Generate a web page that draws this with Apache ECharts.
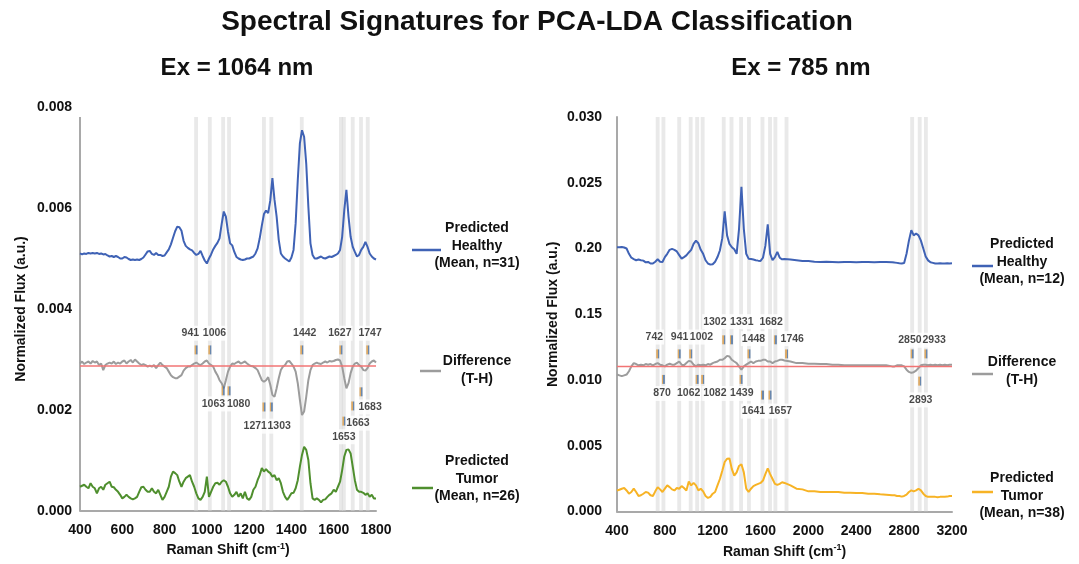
<!DOCTYPE html>
<html>
<head>
<meta charset="utf-8">
<title>Spectral Signatures for PCA-LDA Classification</title>
<script src="https://cdn.jsdelivr.net/npm/echarts@6/dist/echarts.min.js"></script>
<style>
  html, body { margin: 0; padding: 0; background: #fff; }
  #chart { width: 1079px; height: 564px; }
</style>
</head>
<body>
<div id="chart"></div>
<script>
  // ---- Ex = 1064 nm (left panel), Raman shift sampled every 10 cm-1 ----
  const leftShift = [
    400, 410, 420, 430, 440, 450, 460, 470, 480, 490, 500, 510, 520, 530, 540, 550, 560, 570, 580, 590,
    600, 610, 620, 630, 640, 650, 660, 670, 680, 690, 700, 710, 720, 730, 740, 750, 760, 770, 780, 790,
    800, 810, 820, 830, 840, 850, 860, 870, 880, 890, 900, 910, 920, 930, 940, 950, 960, 970, 980, 990,
    1000, 1010, 1020, 1030, 1040, 1050, 1060, 1070, 1080, 1090, 1100, 1110, 1120, 1130, 1140, 1150, 1160, 1170, 1180, 1190,
    1200, 1210, 1220, 1230, 1240, 1250, 1260, 1270, 1280, 1290, 1300, 1310, 1320, 1330, 1340, 1350, 1360, 1370, 1380, 1390,
    1400, 1410, 1420, 1430, 1440, 1450, 1460, 1470, 1480, 1490, 1500, 1510, 1520, 1530, 1540, 1550, 1560, 1570, 1580, 1590,
    1600, 1610, 1620, 1630, 1640, 1650, 1660, 1670, 1680, 1690, 1700, 1710, 1720, 1730, 1740, 1750, 1760, 1770, 1780, 1790,
    1800
  ];
  const leftHealthy = [
    0.00510, 0.00508, 0.00510, 0.00509, 0.00511, 0.00510, 0.00511, 0.00510, 0.00511, 0.00509,
    0.00510, 0.00508, 0.00509, 0.00506, 0.00504, 0.00505, 0.00503, 0.00505, 0.00503, 0.00500,
    0.00500, 0.00503, 0.00502, 0.00499, 0.00497, 0.00498, 0.00497, 0.00498, 0.00497, 0.00499,
    0.00502, 0.00508, 0.00514, 0.00515, 0.00509, 0.00507, 0.00511, 0.00507, 0.00507, 0.00505,
    0.00506, 0.00512, 0.00518, 0.00528, 0.00541, 0.00554, 0.00563, 0.00562, 0.00555, 0.00535,
    0.00525, 0.00521, 0.00518, 0.00516, 0.00511, 0.00507, 0.00509, 0.00515, 0.00505, 0.00496,
    0.00490, 0.00500, 0.00508, 0.00518, 0.00525, 0.00531, 0.00540, 0.00568, 0.00593, 0.00583,
    0.00553, 0.00530, 0.00526, 0.00513, 0.00503, 0.00500, 0.00498, 0.00497, 0.00498, 0.00500,
    0.00500, 0.00502, 0.00504, 0.00510, 0.00520, 0.00540, 0.00565, 0.00588, 0.00595, 0.00590,
    0.00615, 0.00659, 0.00616, 0.00583, 0.00537, 0.00510, 0.00504, 0.00500, 0.00497, 0.00494,
    0.00502, 0.00517, 0.00570, 0.00655, 0.00728, 0.00754, 0.00741, 0.00688, 0.00603, 0.00530,
    0.00507, 0.00500, 0.00500, 0.00502, 0.00504, 0.00501, 0.00500, 0.00502, 0.00504, 0.00503,
    0.00505, 0.00507, 0.00510, 0.00517, 0.00543, 0.00596, 0.00636, 0.00583, 0.00543, 0.00523,
    0.00513, 0.00504, 0.00507, 0.00517, 0.00523, 0.00533, 0.00523, 0.00510, 0.00504, 0.00500,
    0.00498
  ];
  const leftDifference = [
    0.00292, 0.00296, 0.00291, 0.00294, 0.00296, 0.00292, 0.00297, 0.00294, 0.00296, 0.00289,
    0.00292, 0.00279, 0.00289, 0.00292, 0.00294, 0.00292, 0.00296, 0.00291, 0.00294, 0.00292,
    0.00296, 0.00298, 0.00292, 0.00296, 0.00299, 0.00294, 0.00300, 0.00296, 0.00292, 0.00289,
    0.00291, 0.00289, 0.00286, 0.00288, 0.00286, 0.00289, 0.00283, 0.00289, 0.00294, 0.00289,
    0.00286, 0.00283, 0.00276, 0.00269, 0.00265, 0.00263, 0.00263, 0.00266, 0.00269, 0.00278,
    0.00283, 0.00286, 0.00286, 0.00289, 0.00292, 0.00294, 0.00291, 0.00289, 0.00292, 0.00296,
    0.00298, 0.00292, 0.00289, 0.00286, 0.00276, 0.00269, 0.00259, 0.00253, 0.00243, 0.00259,
    0.00276, 0.00286, 0.00292, 0.00291, 0.00294, 0.00296, 0.00292, 0.00294, 0.00296, 0.00292,
    0.00289, 0.00287, 0.00286, 0.00283, 0.00279, 0.00269, 0.00259, 0.00256, 0.00259, 0.00265,
    0.00250, 0.00230, 0.00226, 0.00243, 0.00263, 0.00279, 0.00286, 0.00289, 0.00296, 0.00297,
    0.00292, 0.00286, 0.00276, 0.00253, 0.00220, 0.00190, 0.00197, 0.00226, 0.00259, 0.00279,
    0.00289, 0.00292, 0.00294, 0.00292, 0.00291, 0.00294, 0.00296, 0.00294, 0.00297, 0.00296,
    0.00297, 0.00299, 0.00300, 0.00298, 0.00286, 0.00263, 0.00243, 0.00253, 0.00273, 0.00286,
    0.00292, 0.00294, 0.00289, 0.00286, 0.00279, 0.00278, 0.00283, 0.00292, 0.00296, 0.00298,
    0.00294
  ];
  const leftTumor = [
    0.00048, 0.00050, 0.00052, 0.00048, 0.00045, 0.00055, 0.00048, 0.00045, 0.00035, 0.00045,
    0.00048, 0.00042, 0.00052, 0.00055, 0.00058, 0.00048, 0.00047, 0.00042, 0.00038, 0.00032,
    0.00025, 0.00028, 0.00032, 0.00028, 0.00025, 0.00023, 0.00025, 0.00028, 0.00038, 0.00047,
    0.00048, 0.00042, 0.00038, 0.00038, 0.00045, 0.00038, 0.00035, 0.00042, 0.00032, 0.00022,
    0.00028, 0.00038, 0.00048, 0.00068, 0.00078, 0.00075, 0.00071, 0.00058, 0.00048, 0.00058,
    0.00065, 0.00068, 0.00071, 0.00058, 0.00048, 0.00035, 0.00025, 0.00022, 0.00028, 0.00038,
    0.00068, 0.00028, 0.00038, 0.00048, 0.00055, 0.00056, 0.00052, 0.00058, 0.00061, 0.00058,
    0.00048, 0.00035, 0.00028, 0.00032, 0.00038, 0.00028, 0.00035, 0.00025, 0.00038, 0.00025,
    0.00022, 0.00028, 0.00042, 0.00048, 0.00061, 0.00071, 0.00085, 0.00078, 0.00083, 0.00078,
    0.00075, 0.00068, 0.00071, 0.00061, 0.00065, 0.00055, 0.00038, 0.00028, 0.00022, 0.00028,
    0.00035, 0.00036, 0.00045, 0.00061, 0.00088, 0.00111, 0.00127, 0.00121, 0.00101, 0.00055,
    0.00025, 0.00022, 0.00025, 0.00022, 0.00017, 0.00022, 0.00023, 0.00028, 0.00032, 0.00035,
    0.00042, 0.00038, 0.00048, 0.00058, 0.00081, 0.00108, 0.00121, 0.00122, 0.00114, 0.00088,
    0.00061, 0.00042, 0.00038, 0.00038, 0.00036, 0.00032, 0.00035, 0.00028, 0.00032, 0.00025,
    0.00025
  ];
  const leftZeroLine = 0.00287;
  const leftYTicks = ['0.000', '0.002', '0.004', '0.006', '0.008'];
  const leftPeaks = [941, 1006, 1063, 1080, 1271, 1303, 1442, 1627, 1653, 1663, 1683, 1747];

  // ---- Ex = 785 nm (right panel) ----
  const rightShift = [
    400, 420, 440, 460, 480, 500, 520, 540, 560, 580, 600, 620, 640, 660, 680, 700, 720, 740, 760, 780,
    800, 820, 840, 860, 880, 900, 920, 940, 960, 980, 1000, 1020, 1040, 1060, 1080, 1100, 1120, 1140, 1160, 1180,
    1200, 1220, 1240, 1260, 1280, 1300, 1320, 1340, 1360, 1380, 1400, 1420, 1440, 1460, 1480, 1500, 1520, 1540, 1560, 1580,
    1600, 1620, 1640, 1660, 1680, 1700, 1720, 1740, 1760, 1780, 1800,
    1850, 1900, 1950, 2000, 2050, 2100, 2150, 2200, 2250, 2300, 2350, 2400, 2450, 2500, 2550, 2600, 2650,
    2700, 2720, 2740, 2760, 2780, 2800, 2820, 2840, 2860, 2880, 2900, 2920, 2940, 2960, 2980, 3000,
    3020, 3040, 3060, 3080, 3100, 3120, 3140, 3160, 3180, 3200
  ];
  const rightHealthy = [
    0.02010, 0.02010, 0.02012, 0.02008, 0.02000, 0.01960, 0.01930, 0.01920, 0.01911, 0.01916,
    0.01911, 0.01908, 0.01895, 0.01898, 0.01886, 0.01886, 0.01900, 0.01918, 0.01900, 0.01898,
    0.01935, 0.01960, 0.01990, 0.01997, 0.01990, 0.01978, 0.01950, 0.01923, 0.01935, 0.01948,
    0.01970, 0.01990, 0.02035, 0.02060, 0.02040, 0.01990, 0.01960, 0.01911, 0.01886, 0.01878,
    0.01881, 0.01900, 0.01935, 0.01985, 0.02079, 0.02283, 0.02100, 0.02035, 0.02010, 0.01995,
    0.01960, 0.02150, 0.02469, 0.02150, 0.01960, 0.01923, 0.01920, 0.01916, 0.01911, 0.01908,
    0.01906, 0.01930, 0.02020, 0.02184, 0.01960, 0.01911, 0.01935, 0.01975, 0.01930, 0.01918,
    0.01920,
    0.01916, 0.01911, 0.01906, 0.01906, 0.01900, 0.01898, 0.01900, 0.01898, 0.01896, 0.01898,
    0.01898, 0.01896, 0.01898, 0.01898, 0.01896, 0.01898, 0.01898,
    0.01896, 0.01893, 0.01891, 0.01888, 0.01886, 0.01890, 0.01960, 0.02060, 0.02140, 0.02100,
    0.02114, 0.02100, 0.02060, 0.02000, 0.01940, 0.01910, 0.01895, 0.01891, 0.01886, 0.01886,
    0.01888, 0.01886, 0.01886, 0.01888, 0.01886, 0.01888
  ];
  const rightDifference = [
    0.01042, 0.01036, 0.01030, 0.01036, 0.01042, 0.01067, 0.01104, 0.01129, 0.01122, 0.01112,
    0.01117, 0.01112, 0.01122, 0.01117, 0.01122, 0.01112, 0.01122, 0.01129, 0.01117, 0.01112,
    0.01104, 0.01117, 0.01124, 0.01117, 0.01117, 0.01129, 0.01141, 0.01117, 0.01112, 0.01129,
    0.01146, 0.01141, 0.01117, 0.01104, 0.01117, 0.01112, 0.01117, 0.01112, 0.01122, 0.01117,
    0.01129, 0.01136, 0.01141, 0.01154, 0.01154, 0.01166, 0.01184, 0.01179, 0.01154, 0.01141,
    0.01129, 0.01104, 0.01079, 0.01104, 0.01117, 0.01129, 0.01141, 0.01129, 0.01141, 0.01146,
    0.01146, 0.01154, 0.01154, 0.01141, 0.01141, 0.01129, 0.01141, 0.01146, 0.01154, 0.01154,
    0.01149,
    0.01141, 0.01129, 0.01129, 0.01124, 0.01124, 0.01122, 0.01122, 0.01117, 0.01117, 0.01112,
    0.01112, 0.01112, 0.01112, 0.01112, 0.01112, 0.01112, 0.01112,
    0.01104, 0.01104, 0.01112, 0.01112, 0.01112, 0.01104, 0.01079, 0.01062, 0.01055, 0.01060,
    0.01072, 0.01092, 0.01112, 0.01117, 0.01117, 0.01112, 0.01117, 0.01112, 0.01117, 0.01112,
    0.01117, 0.01112, 0.01117, 0.01112, 0.01117, 0.01117
  ];
  const rightTumor = [
    0.00161, 0.00166, 0.00174, 0.00179, 0.00161, 0.00136, 0.00149, 0.00174, 0.00149, 0.00119,
    0.00124, 0.00136, 0.00149, 0.00144, 0.00124, 0.00119, 0.00154, 0.00186, 0.00169, 0.00149,
    0.00174, 0.00199, 0.00186, 0.00169, 0.00161, 0.00179, 0.00174, 0.00194, 0.00179, 0.00161,
    0.00228, 0.00199, 0.00218, 0.00199, 0.00161, 0.00174, 0.00154, 0.00119, 0.00104, 0.00112,
    0.00136, 0.00149, 0.00199, 0.00248, 0.00310, 0.00377, 0.00402, 0.00404, 0.00323, 0.00273,
    0.00298, 0.00347, 0.00360, 0.00298, 0.00174, 0.00149, 0.00174, 0.00194, 0.00203, 0.00211,
    0.00218, 0.00236, 0.00285, 0.00328, 0.00285, 0.00248, 0.00211, 0.00203, 0.00211, 0.00223,
    0.00218,
    0.00199, 0.00174, 0.00169, 0.00154, 0.00154, 0.00149, 0.00149, 0.00149, 0.00149, 0.00144,
    0.00144, 0.00141, 0.00141, 0.00136, 0.00136, 0.00132, 0.00129,
    0.00124, 0.00124, 0.00119, 0.00119, 0.00114, 0.00119, 0.00129, 0.00149, 0.00161, 0.00154,
    0.00161, 0.00174, 0.00161, 0.00136, 0.00119, 0.00112, 0.00112, 0.00112, 0.00112, 0.00109,
    0.00112, 0.00112, 0.00112, 0.00114, 0.00119, 0.00119
  ];
  const rightZeroLine = 0.01104;
  const rightYTicks = ['0.000', '0.005', '0.010', '0.15', '0.20', '0.025', '0.030'];
  const rightPeaks = [742, 870, 941, 1002, 1062, 1082, 1302, 1331, 1439, 1448, 1641, 1657, 1682, 1746, 2850, 2893, 2933];

  // where each peak is drawn: [band/tick x, tick y, label x, label y] in axis units
  const leftPeakLayout = [
    [949, 0.00319, 922, 0.00352], [1014, 0.00319, 1036, 0.00352],
    [1077, 0.00238, 1031, 0.00212], [1105, 0.00238, 1150, 0.00212],
    [1270, 0.00206, 1229, 0.00168], [1305, 0.00206, 1342, 0.00168],
    [1449, 0.00319, 1463, 0.00352], [1634, 0.00319, 1629, 0.00352],
    [1648, 0.00178, 1648, 0.00147], [1690, 0.00208, 1715, 0.00174],
    [1729, 0.00236, 1772, 0.00206], [1761, 0.00319, 1772, 0.00352]
  ];
  const rightPeakLayout = [
    [740, 0.01199, 712, 0.01327], [788, 0.01005, 777, 0.00898],
    [920, 0.01199, 923, 0.01327], [1016, 0.01199, 1106, 0.01327],
    [1070, 0.01005, 999, 0.00898], [1116, 0.01005, 1218, 0.00898],
    [1292, 0.01306, 1218, 0.01444], [1357, 0.01306, 1443, 0.01444],
    [1437, 0.01005, 1443, 0.00898], [1503, 0.01199, 1541, 0.01315],
    [1616, 0.00886, 1541, 0.00764], [1679, 0.00886, 1766, 0.00764],
    [1724, 0.01306, 1688, 0.01444], [1817, 0.01199, 1865, 0.01315],
    [2867, 0.01199, 2848, 0.01303], [2930, 0.00992, 2939, 0.00849],
    [2982, 0.01199, 3051, 0.01303]
  ];

  const FONT = 'Liberation Sans, Arial, sans-serif';
  const AXIS_GREY = '#a9a9a9';
  const BLUE = '#3f62b5';
  const GREY = '#9c9c9c';
  const GREEN = '#4f8f2e';
  const ORANGE = '#f7b325';
  const RED = '#f27474';

  const chart = echarts.init(document.getElementById('chart'));

  function pairs(xs, ys) {
    return xs.map((x, i) => [x, ys[i]]);
  }

  function spectrum(axis, xs, ys, color) {
    return {
      type: 'line',
      xAxisIndex: axis,
      yAxisIndex: axis,
      data: pairs(xs, ys),
      symbol: 'none',
      silent: true,
      z: 2,
      lineStyle: {color: color, width: 2},
    };
  }

  function bands(axis, layout, halfWidth, top) {
    return {
      type: 'line',
      xAxisIndex: axis,
      yAxisIndex: axis,
      data: [],
      silent: true,
      z: 3,
      markArea: {
        silent: true,
        itemStyle: {color: 'rgba(212,212,212,0.5)'},
        data: layout.map(p => [{coord: [p[0] - halfWidth, 0]}, {coord: [p[0] + halfWidth, top]}]),
      },
    };
  }

  // straight segment in axis units (red zero line, shortened y axis line)
  function segment(axis, from, to, color, width, z) {
    return {
      type: 'line',
      xAxisIndex: axis,
      yAxisIndex: axis,
      data: [from, to],
      symbol: 'none',
      silent: true,
      z: z,
      lineStyle: {color: color, width: width},
    };
  }

  // little two-tone tick marks under/over the difference trace
  function peakTicks(axis, layout) {
    return {
      type: 'scatter',
      xAxisIndex: axis,
      yAxisIndex: axis,
      silent: true,
      z: 6,
      symbol: 'rect',
      symbolSize: [3, 9],
      itemStyle: {
        color: new echarts.graphic.LinearGradient(0, 0, 1, 0, [
          {offset: 0, color: '#d99a45'}, {offset: 0.5, color: '#d99a45'},
          {offset: 0.5, color: '#4a6f9e'}, {offset: 1, color: '#4a6f9e'},
        ]),
      },
      data: layout.map(p => [p[0], p[1]]),
    };
  }

  function peakLabels(axis, peaks, layout) {
    return {
      type: 'scatter',
      xAxisIndex: axis,
      yAxisIndex: axis,
      silent: true,
      z: 5,
      symbolSize: 2,
      itemStyle: {color: 'rgba(0,0,0,0)'},
      label: {
        show: true,
        position: 'inside',
        formatter: '{b}',
        fontFamily: FONT,
        fontSize: 10.5,
        fontWeight: 'bold',
        color: '#1a1a1a',
        backgroundColor: '#fff',
        padding: [2, 1],
      },
      data: peaks.map((p, i) => ({name: String(p), value: [layout[i][2], layout[i][3]]})),
    };
  }

  const axisText = {fontFamily: FONT, fontSize: 14, fontWeight: 'bold', color: '#111'};
  const xName = 'Raman Shift (cm{sup|-1})';
  const xNameStyle = {
    fontFamily: FONT, fontSize: 14, fontWeight: 'bold', color: '#111',
    rich: {sup: {fontFamily: FONT, fontSize: 9, fontWeight: 'bold', color: '#111', padding: [0, 0, 8, 0]}},
  };

  function legendBlock(x, y, text, lineX1, lineX2, lineY, color) {
    return [
      {type: 'line', shape: {x1: lineX1, y1: lineY, x2: lineX2, y2: lineY}, style: {stroke: color, lineWidth: 2.5}},
      {
        type: 'text', x: x, y: y,
        style: {
          text: text, fill: '#111', font: 'bold 14px ' + FONT,
          textAlign: 'center', textVerticalAlign: 'middle', lineHeight: 17.5,
        },
      },
    ];
  }

  chart.setOption({
    animation: false,
    backgroundColor: '#fff',
    grid: [
      {left: 80, top: 107, width: 296, height: 404},
      {left: 617, top: 117, width: 335, height: 403},
    ],
    xAxis: [
      {
        gridIndex: 0, type: 'value', min: 400, max: 1800, interval: 200,
        axisLine: {lineStyle: {color: AXIS_GREY, width: 2}},
        axisTick: {show: false}, splitLine: {show: false},
        axisLabel: Object.assign({margin: 12, formatter: v => String(v)}, axisText),
        name: xName, nameLocation: 'middle', nameGap: 30, nameTextStyle: xNameStyle,
      },
      {
        gridIndex: 1, type: 'value', min: 400, max: 3200, interval: 400,
        axisLine: {lineStyle: {color: AXIS_GREY, width: 2}},
        axisTick: {show: false}, splitLine: {show: false},
        axisLabel: Object.assign({margin: 13, formatter: v => String(v)}, axisText),
        name: xName, nameLocation: 'middle', nameGap: 30, nameTextStyle: xNameStyle,
      },
    ],
    yAxis: [
      {
        gridIndex: 0, type: 'value', min: 0, max: 0.008, interval: 0.002,
        axisLine: {show: false},
        axisTick: {show: false}, splitLine: {show: false},
        axisLabel: Object.assign({margin: 8, formatter: v => leftYTicks[Math.round(v / 0.002)]}, axisText),
        name: 'Normalized Flux (a.u.)', nameLocation: 'middle', nameGap: 52,
        nameTextStyle: {fontFamily: FONT, fontSize: 14, fontWeight: 'bold', color: '#111'},
      },
      {
        gridIndex: 1, type: 'value', min: 0, max: 0.030, interval: 0.005,
        axisLine: {show: true, lineStyle: {color: AXIS_GREY, width: 2}},
        axisTick: {show: false}, splitLine: {show: false},
        axisLabel: Object.assign({margin: 15, formatter: v => rightYTicks[Math.round(v / 0.005)]}, axisText),
        name: 'Normalized Flux (a.u.)', nameLocation: 'middle', nameGap: 57,
        nameTextStyle: {fontFamily: FONT, fontSize: 14, fontWeight: 'bold', color: '#111'},
      },
    ],
    graphic: [
      {
        type: 'text', x: 537, y: 22,
        style: {
          text: 'Spectral Signatures for PCA-LDA Classification', fill: '#111',
          font: 'bold 28px ' + FONT, textAlign: 'center', textVerticalAlign: 'middle',
        },
      },
      {
        type: 'text', x: 237, y: 68,
        style: {text: 'Ex = 1064 nm', fill: '#111', font: 'bold 24px ' + FONT, textAlign: 'center', textVerticalAlign: 'middle'},
      },
      {
        type: 'text', x: 801, y: 68,
        style: {text: 'Ex = 785 nm', fill: '#111', font: 'bold 24px ' + FONT, textAlign: 'center', textVerticalAlign: 'middle'},
      },
      ...legendBlock(477, 246, 'Predicted\nHealthy\n(Mean, n=31)', 412, 441, 250, BLUE),
      ...legendBlock(477, 370, 'Difference\n(T-H)', 420, 441, 371, GREY),
      ...legendBlock(477, 479, 'Predicted\nTumor\n(Mean, n=26)', 412, 433, 488, GREEN),
      ...legendBlock(1022, 262, 'Predicted\nHealthy\n(Mean, n=12)', 972, 993, 266, BLUE),
      ...legendBlock(1022, 371, 'Difference\n(T-H)', 972, 993, 374, GREY),
      ...legendBlock(1022, 496, 'Predicted\nTumor\n(Mean, n=38)', 972, 993, 492, ORANGE),
    ],
    series: [
      segment(0, [400, 0], [400, 0.0078], AXIS_GREY, 2, 1),
      spectrum(0, leftShift, leftHealthy, BLUE),
      spectrum(0, leftShift, leftDifference, GREY),
      spectrum(0, leftShift, leftTumor, GREEN),
      bands(0, leftPeakLayout, 9, 0.0078),
      segment(0, [400, leftZeroLine], [1800, leftZeroLine], RED, 1.5, 4),
      peakLabels(0, leftPeaks, leftPeakLayout),
      peakTicks(0, leftPeakLayout),

      spectrum(1, rightShift, rightHealthy, BLUE),
      spectrum(1, rightShift, rightDifference, GREY),
      spectrum(1, rightShift, rightTumor, ORANGE),
      bands(1, rightPeakLayout, 16, 0.030),
      segment(1, [400, rightZeroLine], [3200, rightZeroLine], RED, 1.5, 4),
      peakLabels(1, rightPeaks, rightPeakLayout),
      peakTicks(1, rightPeakLayout),
    ],
  });
</script>
</body>
</html>
